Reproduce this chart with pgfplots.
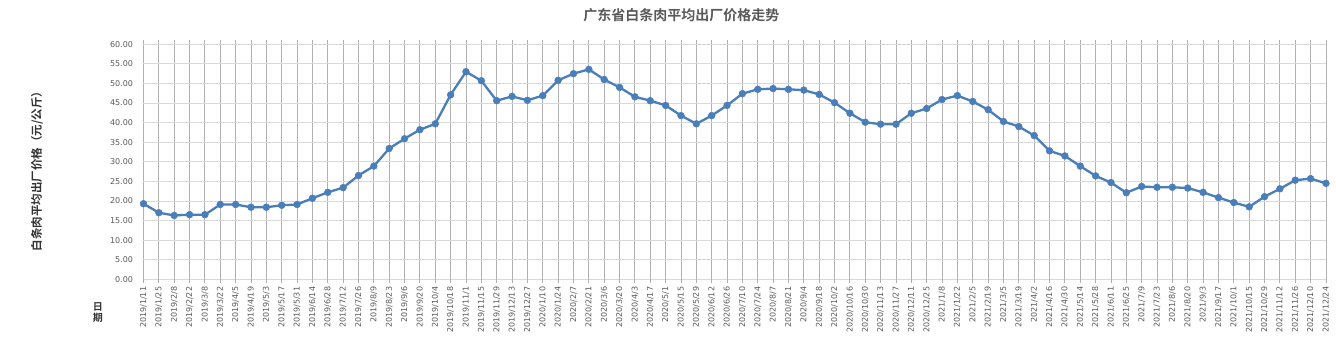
\documentclass[border=0pt]{standalone}
\usepackage{fontspec}
\setmainfont{DejaVu Sans}
\newfontfamily\cjk{Noto Sans CJK SC}[BoldFont={Noto Sans CJK SC Bold}]
\usepackage{pgfplots}
\pgfplotsset{compat=1.18}
\definecolor{lineblue}{HTML}{4A7EBB}
\definecolor{txtgray}{HTML}{595959}
\definecolor{vgrid}{HTML}{B0B0B0}
\definecolor{hgrid}{HTML}{D9D9D9}
\begin{document}
\begin{tikzpicture}
\useasboundingbox (-143.5pt,-65.7pt) rectangle (1192.5pt,279.3pt);
\begin{axis}[
  at={(0pt,0pt)}, anchor=south west,
  scale only axis, width=1182.5pt, height=235pt,
  xmin=0, xmax=77, ymin=0, ymax=60,
  clip=false,
  axis line style={draw=none},
  xtick={0,...,77},
  xticklabels={2019/1/11,2019/1/25,2019/2/8,2019/2/22,2019/3/8,2019/3/22,2019/4/5,2019/4/19,2019/5/3,2019/5/17,2019/5/31,2019/6/14,2019/6/28,2019/7/12,2019/7/26,2019/8/9,2019/8/23,2019/9/6,2019/9/20,2019/10/4,2019/10/18,2019/11/1,2019/11/15,2019/11/29,2019/12/13,2019/12/27,
  2020/1/10,2020/1/24,2020/2/7,2020/2/21,2020/3/6,2020/3/20,2020/4/3,2020/4/17,2020/5/1,2020/5/15,2020/5/29,2020/6/12,2020/6/26,2020/7/10,2020/7/24,2020/8/7,2020/8/21,2020/9/4,2020/9/18,2020/10/2,2020/10/16,2020/10/30,2020/11/13,2020/11/27,2020/12/11,2020/12/25,
  2021/1/8,2021/1/22,2021/2/5,2021/2/19,2021/3/5,2021/3/19,2021/4/2,2021/4/16,2021/4/30,2021/5/14,2021/5/28,2021/6/11,2021/6/25,2021/7/9,2021/7/23,2021/8/6,2021/8/20,2021/9/3,2021/9/17,2021/10/1,2021/10/15,2021/10/29,2021/11/12,2021/11/26,2021/12/10,2021/12/24},
  ytick={0,5,...,60},
  grid=major,
  x grid style={vgrid, line width=0.9pt},
  y grid style={hgrid, line width=0.9pt},
  tick align=outside,
  major tick length=4pt,
  xtick style={vgrid, line width=0.9pt},
  ytick style={draw=none},
  /pgf/number format/assume math mode=true,
  yticklabel={\pgfmathprintnumber[fixed,fixed zerofill,precision=2]{\tick}},
  tick label style={font=\fontsize{8}{9}\selectfont, text=txtgray},
  xticklabel style={rotate=90, anchor=east},
  yticklabel style={xshift=-3pt},
]
\addplot[color=lineblue, line width=2.3pt, mark=*, mark size=3.4pt, mark options={fill=lineblue, draw=lineblue, line width=0.5pt}] coordinates {
(0,19.3) (1,17.0) (2,16.3) (3,16.5) (4,16.5) (5,19.1) (6,19.1) (7,18.4) (8,18.4) (9,18.9)
(10,19.1) (11,20.7) (12,22.2) (13,23.4) (14,26.5) (15,28.9) (16,33.4) (17,35.9) (18,38.2) (19,39.7)
(20,47.1) (21,53.0) (22,50.7) (23,45.6) (24,46.7) (25,45.7) (26,46.9) (27,50.8) (28,52.5) (29,53.6)
(30,51.0) (31,49.0) (32,46.6) (33,45.6) (34,44.4) (35,41.8) (36,39.7) (37,41.8) (38,44.4) (39,47.4)
(40,48.5) (41,48.7) (42,48.5) (43,48.3) (44,47.2) (45,45.1) (46,42.4) (47,40.1) (48,39.6) (49,39.6)
(50,42.4) (51,43.6) (52,45.9) (53,46.9) (54,45.4) (55,43.3) (56,40.3) (57,39.0) (58,36.7) (59,32.8)
(60,31.5) (61,28.9) (62,26.4) (63,24.7) (64,22.1) (65,23.7) (66,23.5) (67,23.5) (68,23.3) (69,22.2)
(70,20.85) (71,19.6) (72,18.5) (73,21.1) (74,23.1) (75,25.3) (76,25.7) (77,24.5)
};
\end{axis}
\node[font=\cjk\bfseries\fontsize{14}{16}\selectfont, text=txtgray] at (537.8pt,264.3pt) {广东省白条肉平均出厂价格走势};
\node[rotate=90, font=\cjk\bfseries\fontsize{11.5}{13}\selectfont, text=black!80] at (-106.5pt,110.8pt) {白条肉平均出厂价格（元/公斤）};
\node[font=\cjk\bfseries\fontsize{10}{10.5}\selectfont, text=black!80] at (-45.5pt,-27.5pt) {日};
\node[font=\cjk\bfseries\fontsize{10}{10.5}\selectfont, text=black!80] at (-45.5pt,-38.5pt) {期};
\end{tikzpicture}
\end{document}
